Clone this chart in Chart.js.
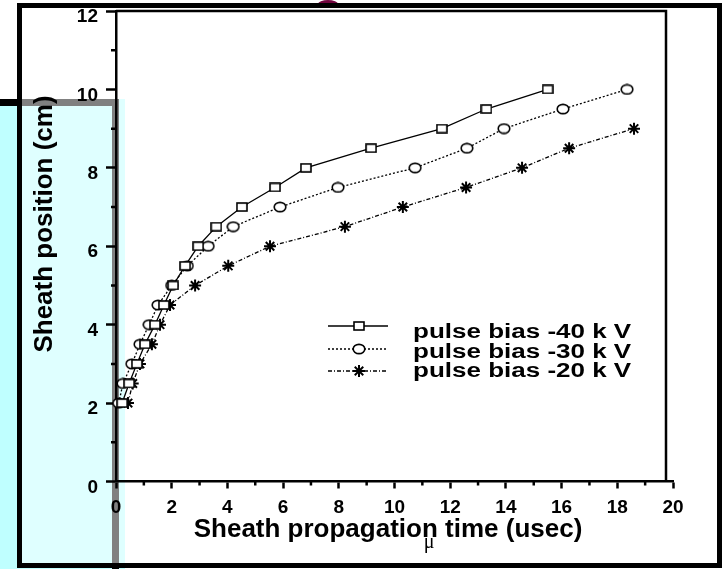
<!DOCTYPE html>
<html>
<head>
<meta charset="utf-8">
<script src="https://cdn.jsdelivr.net/npm/chart.js@4.4.0/dist/chart.umd.min.js"></script>
<style>
  html, body { margin: 0; padding: 0; background: #fff; }
</style>
</head>
<body>
<canvas id="sheathChart" width="727" height="569"></canvas>
<script>
// sheath edge position (cm) against propagation time (usec), one pair of arrays per bias
const pos40 = [2, 2.5, 3, 3.5, 4, 4.5, 5, 5.5, 6, 6.5, 7, 7.5, 8, 8.5, 9, 9.5, 10];
const time40 = [0.22, 0.47, 0.75, 1.04, 1.4, 1.72, 2.05, 2.48, 2.95, 3.6, 4.52, 5.71, 6.82, 9.16, 11.7, 13.3, 15.5];
const pos30 = [2, 2.5, 3, 3.5, 4, 4.5, 5, 5.5, 6, 6.5, 7, 7.5, 8, 8.5, 9, 9.5, 10];
const time30 = [0.1, 0.25, 0.57, 0.86, 1.19, 1.51, 2.0, 2.56, 3.31, 4.21, 5.89, 7.97, 10.74, 12.6, 13.93, 16.05, 18.35];
const pos20 = [2, 2.5, 3, 3.5, 4, 4.5, 5, 5.5, 6, 6.5, 7, 7.5, 8, 8.5, 9];
const time20 = [0.43, 0.6, 0.86, 1.29, 1.58, 1.94, 2.84, 4.03, 5.53, 8.22, 10.3, 12.57, 14.58, 16.27, 18.6];
const seriesLabels = ['pulse bias -40 k V', 'pulse bias -30 k V', 'pulse bias -20 k V'];

const xMin = 0, xMax = 20, xStep = 2;
const yMin = 0, yMax = 12, yStep = 2;
const xTitle = 'Sheath propagation time (usec)';
const yTitle = 'Sheath position (cm)';

const FONT = '"Liberation Sans", Arial, sans-serif';

function toPoints(xs, ys) {
    return xs.map((x, i) => ({ x: x, y: ys[i] }));
}

// hollow markers: small box and a flattened ring
function boxMarker() {
    const c = document.createElement('canvas');
    c.width = 12; c.height = 10;
    const g = c.getContext('2d');
    g.fillStyle = '#fff';
    g.strokeStyle = '#000';
    g.lineWidth = 1.6;
    g.fillRect(1, 1, 10, 8);
    g.strokeRect(1, 1, 10, 8);
    return c;
}
function ringMarker() {
    const c = document.createElement('canvas');
    c.width = 14; c.height = 12;
    const g = c.getContext('2d');
    g.fillStyle = '#fff';
    g.strokeStyle = '#000';
    g.lineWidth = 1.6;
    g.beginPath();
    g.ellipse(7, 6, 5.8, 4.6, 0, 0, Math.PI * 2);
    g.fill();
    g.stroke();
    return c;
}

// keep tick label overhang from pushing the plot area around
function noOverhang(scale) {
    scale.paddingTop = 0;
    scale.paddingBottom = 0;
    scale.paddingLeft = 0;
    scale.paddingRight = 0;
}

const backdrop = {
    id: 'backdrop',
    beforeDraw(chart) {
        const ctx = chart.ctx;
        ctx.save();
        ctx.fillStyle = '#fff';
        ctx.fillRect(0, 0, chart.width, chart.height);
        // cyan panel behind the left edge
        ctx.fillStyle = '#bfffff';
        ctx.fillRect(0, 99, 125, 480);
        ctx.fillStyle = '#000';
        ctx.fillRect(0, 99, 119, 7);
        ctx.fillRect(112, 99, 7, 480);
        // everything inside the outer frame is washed out
        ctx.fillStyle = 'rgba(255,255,255,0.5)';
        ctx.fillRect(22, 8, 695, 555);
        // purple cap sticking out above the frame
        ctx.fillStyle = '#72063f';
        ctx.beginPath();
        ctx.ellipse(328, 4, 10, 4, 0, 0, Math.PI * 2);
        ctx.fill();
        ctx.restore();
    },
    afterDraw(chart) {
        const ctx = chart.ctx;
        const area = chart.chartArea;
        const xs = chart.scales.x, ys = chart.scales.y;
        ctx.save();

        // box round the plot (top and right)
        ctx.strokeStyle = '#000';
        ctx.lineWidth = 2.5;
        ctx.beginPath();
        ctx.moveTo(area.left, area.top);
        ctx.lineTo(666, area.top);
        ctx.lineTo(666, area.bottom);
        ctx.stroke();

        // outer frame
        ctx.lineWidth = 5;
        ctx.strokeRect(19.5, 5.5, 700, 560);

        // minor ticks on odd values
        ctx.lineWidth = 2.5;
        ctx.beginPath();
        for (let v = xMin + 1; v < xMax; v += xStep) {
            const px = xs.getPixelForValue(v);
            ctx.moveTo(px, area.bottom);
            ctx.lineTo(px, area.bottom + 4);
        }
        for (let v = yMin + 1; v < yMax; v += yStep) {
            const py = ys.getPixelForValue(v);
            ctx.moveTo(area.left - 5, py);
            ctx.lineTo(area.left, py);
        }
        ctx.stroke();

        // legend: line sample with its marker, then stretched label
        const sampleRows = [326, 349, 371];
        const textRows = [338, 357.5, 377];
        chart.data.datasets.forEach((ds, i) => {
            const y = sampleRows[i];
            ctx.save();
            ctx.strokeStyle = '#000';
            ctx.lineWidth = ds.borderWidth;
            ctx.setLineDash(ds.borderDash || []);
            ctx.beginPath();
            ctx.moveTo(328, y);
            ctx.lineTo(388, y);
            ctx.stroke();
            ctx.setLineDash([]);
            ctx.fillStyle = '#fff';
            ctx.lineWidth = ds.pointBorderWidth;
            Chart.helpers.drawPoint(ctx, {
                pointStyle: ds.pointStyle, radius: ds.pointRadius,
                rotation: 0, borderWidth: ds.pointBorderWidth
            }, 359, y);
            ctx.restore();

            ctx.save();
            ctx.fillStyle = '#000';
            ctx.font = 'bold 20px ' + FONT;
            ctx.textBaseline = 'alphabetic';
            ctx.translate(413, textRows[i]);
            ctx.scale(1.3, 1);
            ctx.fillText(ds.label, 0, 0);
            ctx.restore();
        });

        // axis titles
        ctx.fillStyle = '#000';
        ctx.font = 'bold 26px ' + FONT;
        ctx.textAlign = 'center';
        ctx.textBaseline = 'alphabetic';
        ctx.fillText(xTitle, 388, 537);

        ctx.save();
        ctx.textBaseline = 'middle';
        ctx.translate(45, 224);
        ctx.rotate(-Math.PI / 2);
        ctx.fillText(yTitle, 0, 0);
        ctx.restore();

        // stray mu under the x title
        ctx.font = '20px "Liberation Serif", "Times New Roman", serif';
        ctx.fillText('\u03bc', 429, 548);

        ctx.restore();
    }
};

const ctx = document.getElementById('sheathChart').getContext('2d');
new Chart(ctx, {
    type: 'line',
    data: {
        datasets: [
            {
                label: seriesLabels[0], data: toPoints(time40, pos40),
                borderColor: '#000', borderWidth: 1.3, borderDash: [],
                pointStyle: boxMarker(), pointRadius: 5, pointBorderWidth: 1.6,
                pointBackgroundColor: '#fff', pointBorderColor: '#000'
            },
            {
                label: seriesLabels[1], data: toPoints(time30, pos30),
                borderColor: '#000', borderWidth: 1.3, borderDash: [2, 2],
                pointStyle: ringMarker(), pointRadius: 6, pointBorderWidth: 1.6,
                pointBackgroundColor: '#fff', pointBorderColor: '#000'
            },
            {
                label: seriesLabels[2], data: toPoints(time20, pos20),
                borderColor: '#000', borderWidth: 1.3, borderDash: [4, 2, 1, 2],
                pointStyle: 'star', pointRadius: 6, pointBorderWidth: 2,
                pointBackgroundColor: '#fff', pointBorderColor: '#000'
            }
        ]
    },
    options: {
        responsive: false,
        animation: false,
        devicePixelRatio: 1,
        layout: { padding: { left: 0, right: 54, top: 11, bottom: 0 } },
        elements: { line: { tension: 0, fill: false } },
        datasets: { line: { clip: false } },
        plugins: {
            legend: { display: false },
            tooltip: { enabled: false }
        },
        scales: {
            x: {
                type: 'linear', min: xMin, max: xMax,
                afterFit(scale) { scale.height = 87.5; noOverhang(scale); },
                ticks: {
                    stepSize: xStep, color: '#000', padding: 7.5,
                    maxRotation: 0, font: { family: FONT, size: 19, weight: 'bold' }
                },
                grid: {
                    drawOnChartArea: false, drawTicks: true, tickLength: 7,
                    tickWidth: 2.5, tickColor: '#000'
                },
                border: { color: '#000', width: 2.5 }
            },
            y: {
                type: 'linear', min: yMin, max: yMax,
                afterFit(scale) { scale.width = 116; noOverhang(scale); },
                ticks: {
                    stepSize: yStep, color: '#000', padding: 8, labelOffset: 6,
                    font: { family: FONT, size: 19, weight: 'bold' }
                },
                grid: {
                    drawOnChartArea: false, drawTicks: true, tickLength: 10,
                    tickWidth: 2.5, tickColor: '#000'
                },
                border: { color: '#000', width: 2.5 }
            }
        }
    },
    plugins: [backdrop]
});
</script>
</body>
</html>
